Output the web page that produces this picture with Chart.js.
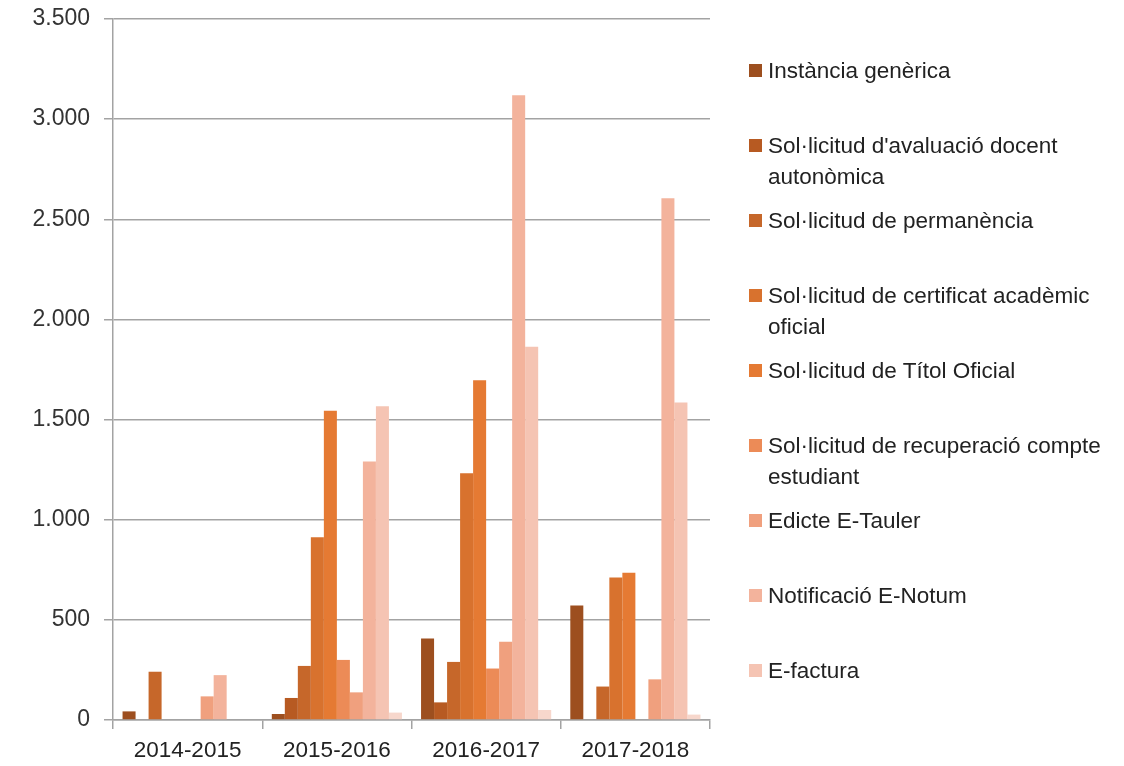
<!DOCTYPE html>
<html>
<head>
<meta charset="utf-8">
<script src="https://cdn.jsdelivr.net/npm/chart.js@4.4.1/dist/chart.umd.min.js"></script>
<style>
  body { margin: 0; background: #fff; }
  #wrap { position: relative; width: 1124px; height: 766px; }
  #legend { position: absolute; left: 748px; top: 55px; width: 370px;
    font-family: "Liberation Sans", Arial, sans-serif; font-size: 22.5px; color: #222; }
  .item { position: relative; height: 75px; padding-left: 20px; line-height: 31px; width: 345px; }
  .box { position: absolute; left: 1px; top: 9px; width: 13px; height: 13px; }
</style>
</head>
<body>
<div id="wrap">
  <canvas id="myChart" width="1124" height="766"></canvas>
  <div id="legend"></div>
</div>
<script>
var years = ['2014-2015', '2015-2016', '2016-2017', '2017-2018'];

var seriesNames = [
  'Instància genèrica',
  "Sol·licitud d'avaluació docent autonòmica",
  'Sol·licitud de permanència',
  'Sol·licitud de certificat acadèmic oficial',
  'Sol·licitud de Títol Oficial',
  'Sol·licitud de recuperació compte estudiant',
  'Edicte E-Tauler',
  'Notificació E-Notum',
  'E-factura',
  '' // 10th series, its legend entry is cut off in the original
];

var instancia    = [43, 30, 407, 572];
var avaluacio    = [0, 110, 88, 0];
var permanencia  = [241, 270, 290, 167];
var certificat   = [0, 912, 1232, 712];
var titol        = [0, 1544, 1696, 735];
var recuperacio  = [0, 300, 257, 0];
var edicte       = [118, 138, 391, 203];
var notificacio  = [224, 1291, 3119, 2605];
var efactura     = [0, 1566, 1864, 1585];
var altres       = [0, 37, 50, 27];

var colors = ['#9d4f1f', '#b75a22', '#c6672a', '#d8722e', '#e57a33',
              '#ec8b57', '#f0a07e', '#f3b39c', '#f5c4b3', '#f7d7cc'];

var seriesData = [instancia, avaluacio, permanencia, certificat, titol,
                  recuperacio, edicte, notificacio, efactura, altres];

var datasets = [];
for (var i = 0; i < seriesData.length; i++) {
  datasets.push({
    label: seriesNames[i],
    data: seriesData[i],
    backgroundColor: colors[i],
    borderWidth: 0,
    categoryPercentage: 0.872,
    barPercentage: 1.0
  });
}

var FONT = '"Liberation Sans", Arial, sans-serif';
var GRID = '#a3a3a3';

function fmt(v) {
  return String(v).replace(/\B(?=(\d{3})+(?!\d))/g, '.');
}

const config = {
  type: 'bar',
  data: { labels: years, datasets: datasets },
  options: {
    responsive: false,
    animation: false,
    layout: { padding: { top: 19, right: 414, left: 0, bottom: 0 } },
    plugins: { legend: { display: false }, tooltip: { enabled: false } },
    scales: {
      y: {
        min: 0,
        max: 3500,
        ticks: { stepSize: 500, callback: fmt, color: '#333',
                 font: { family: FONT, size: 23 }, padding: 14 },
        grid: { color: GRID, lineWidth: 1.5, tickLength: 9 },
        border: { display: true, color: GRID, width: 1.5 },
        afterFit: function (scale) {
          scale.width = 113;
          scale.paddingTop = 0;
          scale.paddingBottom = 0;
        }
      },
      x: {
        ticks: { color: '#222', font: { family: FONT, size: 22.5 }, padding: 8 },
        grid: { display: true, drawOnChartArea: false, color: GRID, lineWidth: 1.5, tickLength: 9 },
        border: { display: true, color: GRID, width: 1.5 },
        afterFit: function (scale) {
          scale.height = 46;
          scale.paddingLeft = 0;
          scale.paddingRight = 0;
        }
      }
    }
  }
};

new Chart(document.getElementById('myChart'), config);

// legend, built from the same names/colours (last series has no visible entry)
var legend = document.getElementById('legend');
for (var k = 0; k < 9; k++) {
  var item = document.createElement('div');
  item.className = 'item';
  var box = document.createElement('span');
  box.className = 'box';
  box.style.background = colors[k];
  item.appendChild(box);
  item.appendChild(document.createTextNode(seriesNames[k]));
  legend.appendChild(item);
}
</script>
</body>
</html>
